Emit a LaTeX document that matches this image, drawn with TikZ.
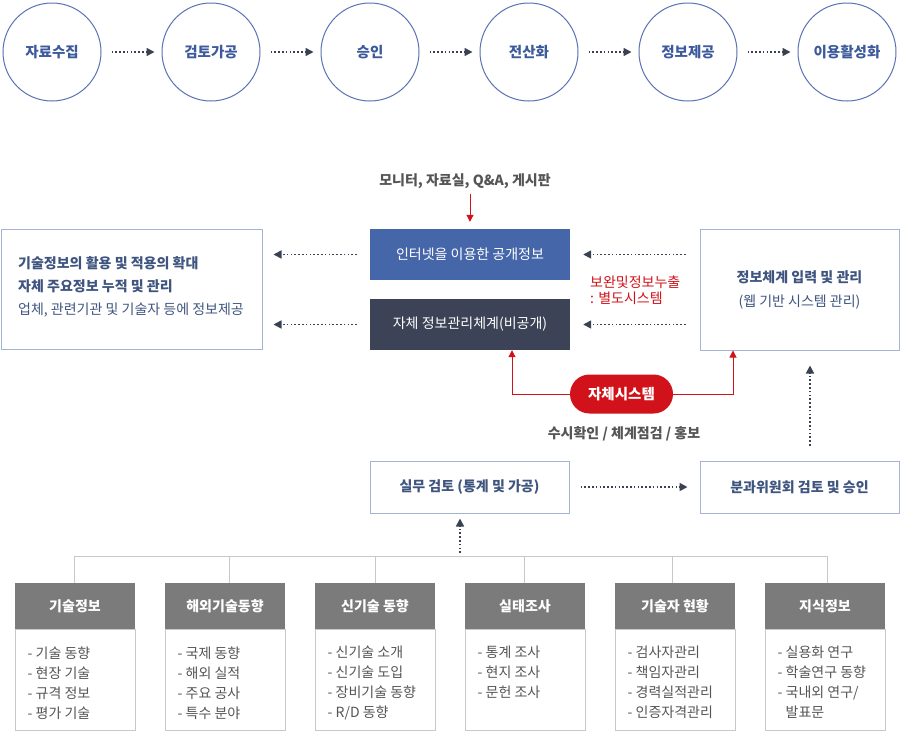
\documentclass[tikz,border=0pt]{standalone}
\usepackage{fontspec}
\setmainfont{Noto Sans CJK KR}
\usetikzlibrary{arrows.meta,positioning,calc}
\definecolor{cblue}{HTML}{5A72B4}
\definecolor{tblue}{HTML}{3C5A9C}
\definecolor{bblue}{HTML}{4566A8}
\definecolor{bdark}{HTML}{3C4356}
\definecolor{lborder}{HTML}{A4B4D4}
\definecolor{dtext}{HTML}{3F5580}
\definecolor{gtext}{HTML}{555555}
\definecolor{rred}{HTML}{D2121A}
\definecolor{treeg}{HTML}{C8C8C8}
\definecolor{hgray}{HTML}{7B7B7B}
\definecolor{arr}{HTML}{3A4152}
\begin{document}
\begin{tikzpicture}[x=1pt,y=-1pt,
  stepcirc/.style={circle,draw=cblue,line width=1pt,minimum size=98pt,inner sep=0pt,
    font=\fontsize{14.5}{17}\selectfont\bfseries,text=tblue},
  dotarrow/.style={draw=arr,line width=1.6pt,dash pattern=on 1.6pt off 2.2pt,
    -{Triangle[length=8pt,width=8pt,fill=arr]}},
  redarrow/.style={draw=rred,line width=1pt,-{Triangle[length=7pt,width=7pt]}},
  filledbox/.style={rectangle,minimum width=200pt,minimum height=51pt,inner sep=0pt,
    text=white,font=\fontsize{14}{17}\selectfont},
  linebox/.style={rectangle,draw=lborder,line width=1pt,inner sep=0pt},
  hdr/.style={rectangle,fill=hgray,minimum width=120pt,minimum height=46pt,inner sep=0pt,
    text=white,font=\fontsize{14}{17}\selectfont\bfseries},
  bodybox/.style={rectangle,draw=treeg,line width=1pt,minimum width=120pt,minimum height=101pt,inner sep=0pt},
  bodytext/.style={anchor=north west,align=left,inner sep=0pt,text=gtext,
    font=\fontsize{14}{20}\selectfont},
  treeline/.style={draw=treeg,line width=1pt}
]
\useasboundingbox[fill=white] (0,0) rectangle (900,734);

% top process
\node[stepcirc] (c1) at (52,52) {자료수집};
\node[stepcirc] (c2) at (211,52) {검토가공};
\node[stepcirc] (c3) at (370,52) {승인};
\node[stepcirc] (c4) at (529,52) {전산화};
\node[stepcirc] (c5) at (688,52) {정보제공};
\node[stepcirc] (c6) at (847,52) {이용활성화};
\foreach \a/\b in {c1/c2,c2/c3,c3/c4,c4/c5,c5/c6}
  \draw[dotarrow,shorten <=10pt,shorten >=7pt] (\a.east) -- (\b.west);

% middle
\node[text=gtext,font=\fontsize{14}{17}\selectfont\bfseries,inner sep=0pt] (mon) at (465,181) {모니터, 자료실, Q\&A, 게시판};
\node[filledbox,fill=bblue] (pub) at (470,254.5) {인터넷을 이용한 공개정보};
\node[filledbox,fill=bdark] (priv) at (470,324.5) {자체 정보관리체계(비공개)};
\draw[redarrow,shorten <=5pt,shorten >=7pt] (mon.south -| pub.north) -- (pub.north);

\node[linebox,minimum width=261pt,minimum height=120pt] (lbox) at (131.5,289) {};
\node[anchor=west,align=left,inner sep=0pt,text=dtext,font=\fontsize{14}{23}\selectfont] (ltext) at (18,287)
  {\textbf{기술정보의 활용 및 적용의 확대}\\\textbf{자체 주요정보 누적 및 관리}\\업체, 관련기관 및 기술자 등에 정보제공};

\node[linebox,minimum width=199pt,minimum height=121pt,align=center,text=dtext,
  font=\fontsize{14}{24}\selectfont] (rbox) at (799.5,289.5)
  {\textbf{정보체계 입력 및 관리}\\(웹 기반 시스템 관리)};

\node[anchor=west,align=left,inner sep=0pt,text=rred,font=\fontsize{14}{16}\selectfont] (sec) at (590,290.5)
  {보완및정보누출\\: 별도시스템};

\draw[dotarrow,shorten <=13pt,shorten >=11pt] (pub.west) -- (pub.west -| lbox.east);
\draw[dotarrow,shorten <=13pt,shorten >=11pt] (priv.west) -- (priv.west -| lbox.east);
\draw[dotarrow,shorten <=14pt,shorten >=13pt] (pub.east -| rbox.west) -- (pub.east);
\draw[dotarrow,shorten <=14pt,shorten >=13pt] (priv.east -| rbox.west) -- (priv.east);

% own system
\node[rectangle,rounded corners=19.5pt,fill=rred,minimum width=103pt,minimum height=39pt,inner sep=0pt,
  text=white,font=\fontsize{14.5}{17}\selectfont\bfseries] (own) at (621.5,394) {자체시스템};
\draw[redarrow] (own.west) -| ([xshift=42pt]priv.south);
\draw[redarrow] (own.east) -| ([xshift=-66.5pt]rbox.south);
\node[text=gtext,font=\fontsize{14}{17}\selectfont\bfseries,inner sep=0pt] (chk) at (624,434) {수시확인 / 체계점검 / 홍보};

% review boxes
\node[linebox,minimum width=199pt,minimum height=52pt,text=dtext,font=\fontsize{14}{17}\selectfont\bfseries] (rev) at (469.5,487) {실무 검토 (통계 및 가공)};
\node[linebox,minimum width=199pt,minimum height=52pt,text=dtext,font=\fontsize{14}{17}\selectfont\bfseries] (comm) at (799.5,487) {분과위원회 검토 및 승인};
\draw[dotarrow,shorten <=11pt,shorten >=12pt] (rev.east) -- (comm.west);
\draw[dotarrow,shorten <=15pt,shorten >=15pt] ([xshift=10.5pt]comm.north) -- ([xshift=10.5pt]rbox.south);

% bottom categories
\node[hdr] (h1) at (75,606) {기술정보};
\node[hdr] (h2) at (225,606) {해외기술동향};
\node[hdr] (h3) at (375,606) {신기술 동향};
\node[hdr] (h4) at (525,606) {실태조사};
\node[hdr] (h5) at (675,606) {기술자 현황};
\node[hdr] (h6) at (825,606) {지식정보};
\foreach \i in {1,...,6} {
  \node[bodybox,anchor=north] (b\i) at (h\i.south) {};
}
\node[bodytext] (t1) at ([xshift=13pt,yshift=-17pt]b1.north west) {- 기술 동향\\- 현장 기술\\- 규격 정보\\- 평가 기술};
\node[bodytext] (t2) at ([xshift=13pt,yshift=-17pt]b2.north west) {- 국제 동향\\- 해외 실적\\- 주요 공사\\- 특수 분야};
\node[bodytext] (t3) at ([xshift=13pt,yshift=-17pt]b3.north west) {- 신기술 소개\\- 신기술 도입\\- 장비기술 동향\\- R/D 동향};
\node[bodytext] (t4) at ([xshift=13pt,yshift=-17pt]b4.north west) {- 통계 조사\\- 현지 조사\\- 문헌 조사};
\node[bodytext] (t5) at ([xshift=13pt,yshift=-17pt]b5.north west) {- 검사자관리\\- 책임자관리\\- 경력실적관리\\- 인증자격관리};
\node[bodytext] (t6) at ([xshift=13pt,yshift=-17pt]b6.north west) {- 실용화 연구\\- 학술연구 동향\\- 국내외 연구/\\\phantom{- }발표문};

% tree
\coordinate (tl) at (74,556);
\coordinate (tr) at (827,556);
\coordinate (tup) at (460,556);
\draw[treeline] (tl) -- (tr);
\draw[treeline] ([xshift=-1pt]h1.north) -- ([xshift=-1pt]h1.north |- tl);
\draw[treeline] ([xshift=4pt]h2.north) -- ([xshift=4pt]h2.north |- tl);
\draw[treeline] (h3.north) -- (h3.north |- tl);
\draw[treeline] ([xshift=-1pt]h4.north) -- ([xshift=-1pt]h4.north |- tl);
\draw[treeline] ([xshift=-3pt]h5.north) -- ([xshift=-3pt]h5.north |- tl);
\draw[treeline] ([xshift=2pt]h6.north) -- ([xshift=2pt]h6.north |- tl);
\draw[dotarrow,shorten <=3pt,shorten >=5pt] (tup) -- (tup |- rev.south);
\end{tikzpicture}
\end{document}
